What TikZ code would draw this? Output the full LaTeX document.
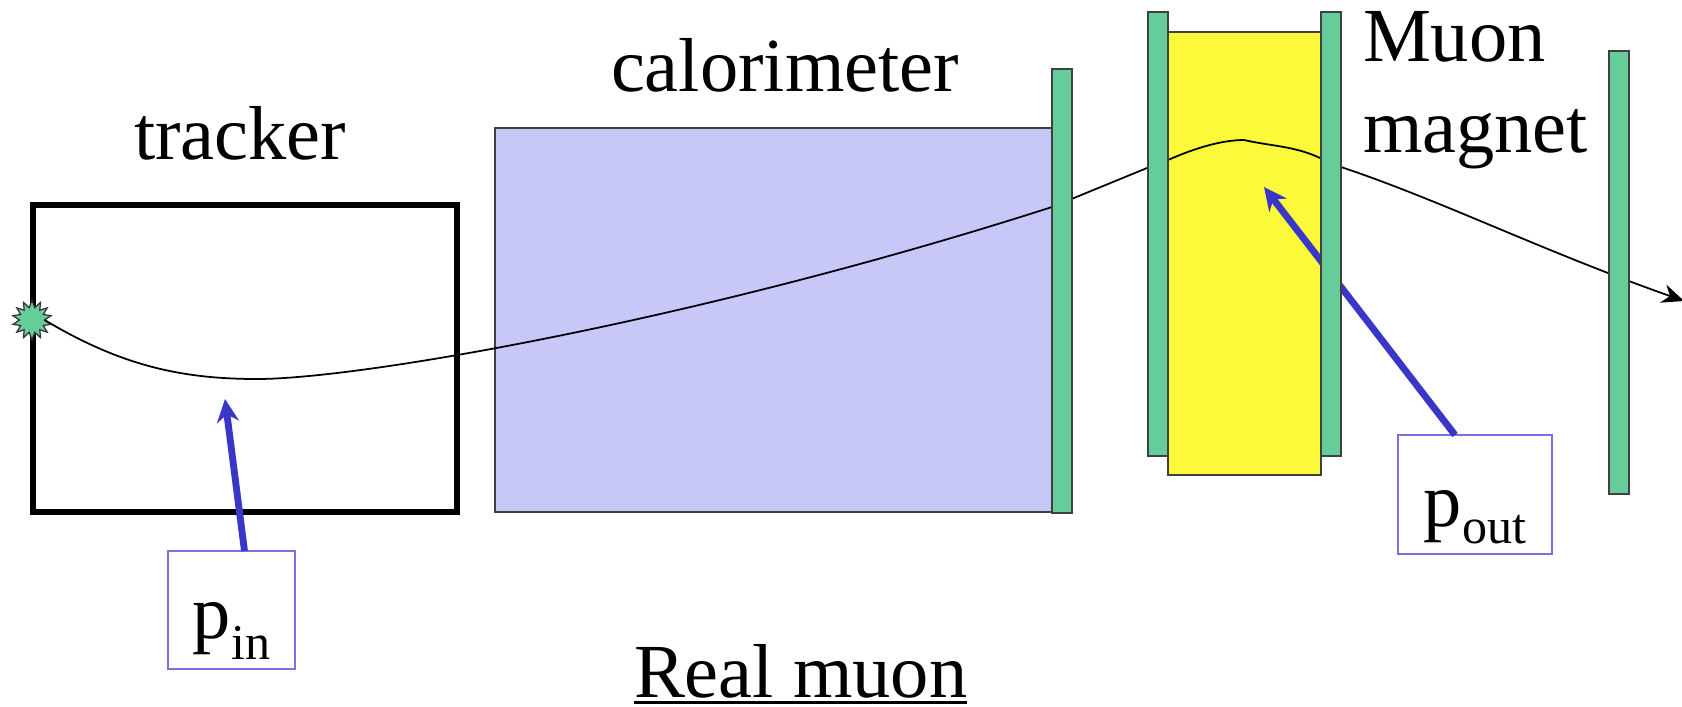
\documentclass[tikz,border=0pt]{standalone}
\usepackage{fontspec}
\setmainfont{Liberation Serif}
\usetikzlibrary{arrows.meta, shapes.geometric}
\definecolor{detector}{HTML}{66CC99}
\definecolor{calofill}{HTML}{C8C8F8}
\definecolor{magnetfill}{HTML}{FCF93A}
\definecolor{pointer}{HTML}{3A36C8}
\definecolor{boxedge}{HTML}{7B70E0}
\newlength{\ulw}
\newcommand{\ultext}[1]{\settowidth{\ulw}{#1}\rlap{\rule[-4pt]{\ulw}{1.7pt}}#1}
\newcommand{\subtxt}[2]{\raisebox{-#1pt}{\fontsize{28.5}{30}\selectfont #2}}

\begin{document}
\begin{tikzpicture}[
  x=0.2mm, y=-0.2mm,
  every node/.style={inner sep=0pt, outer sep=0pt},
  lbl/.style={anchor=base west, font=\fontsize{43.5}{50}\selectfont},
  block/.style n args={3}{
    rectangle, anchor=north west, fill=#1, draw=black!75, line width=0.7pt,
    minimum width=#2*0.02cm, minimum height=#3*0.02cm
  },
  pbox/.style n args={3}{
    rectangle, draw=boxedge, line width=1.1pt, fill=white, align=center,
    font=\fontsize{43.5}{50}\selectfont,
    minimum width=#1*0.02cm, text height=#2*0.02cm, text depth=#3*0.02cm
  },
  trackline/.style={line width=1pt, color=black, -{Stealth[length=4.4mm, width=3.8mm]}},
  pointarrow/.style={line width=3.9pt, color=pointer, -{Stealth[length=4.6mm, width=4.4mm]}}
]
\useasboundingbox (0,0) rectangle (1682,706);

%% === TRACKER AND CALORIMETER ===
\node[rectangle, anchor=north west, draw=black, line width=3.2pt,
      minimum width=424*0.02cm, minimum height=307*0.02cm] (tracker) at (33,205) {};
\node[block={calofill}{557}{384}] (calo) at (495,128) {};
\node[block={magnetfill}{153}{443}] (magnet) at (1168,32) {};

%% === TRACK (passes under the chambers) ===
\node[star, star points=14, star point ratio=1.55, minimum size=39*0.02cm,
      fill=detector, draw=black!80, line width=0.7pt] (burst) at (32,320) {};
\coordinate (trackend) at (1684,301);
\draw[trackline] (burst.east)
  .. controls (120,365) and (180,379) .. (257,379)
  .. controls (360,379) and (700,320) .. (1052,207)
  -- (1147,168) -- (1168,160)
  .. controls (1195,148) and (1222,140) .. (1244,140)
  .. controls (1270,146) and (1295,146) .. (1320,158)
  -- (1341,167)
  .. controls (1440,200) and (1540,250) .. (trackend);

%% === MOMENTUM BOXES ===
\node[pbox={127}{87}{31}] (pin) at (231.5,610) {p\subtxt{12}{in}};
\node[pbox={154}{91}{28}] (pout) at (1475,494.5) {p\subtxt{10}{out}};

\coordinate (pintip) at (225,399);
\coordinate (pouttip) at (1264,187);
\draw[pointarrow] ([xshift=13*0.02cm]pin.north) -- (pintip);
\draw[pointarrow] ([xshift=-20*0.02cm]pout.north) -- (pouttip);

%% === MUON CHAMBERS ===
\node[block={detector}{20}{444}] (bara) at (1052,69) {};
\node[block={detector}{20}{444}] (barb) at (1148,12) {};
\node[block={detector}{20}{444}] (barc) at (1321,12) {};
\node[block={detector}{20}{443}] (bard) at (1609,51) {};

%% === LABELS ===
\node[lbl] (trackerlbl) at (134,159) {tracker};
\node[lbl] (calolbl) at (611,91) {calorimeter};
\node[lbl] (muonlbl) at (1363,61) {Muon};
\node[lbl] (magnetlbl) at (1363,152) {magnet};
\node[lbl] (reallbl) at (634,697) {\ultext{Real muon}};

\end{tikzpicture}
\end{document}
